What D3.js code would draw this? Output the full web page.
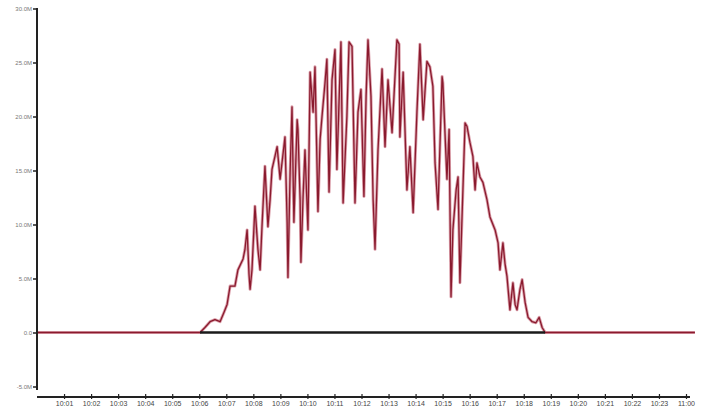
<!DOCTYPE html>
<html>
<head>
<meta charset="utf-8">
<script src="https://cdn.jsdelivr.net/npm/d3@7"></script>
<style>
  html, body { margin: 0; padding: 0; background: #fff; }
  svg { display: block; }
  text { font-family: "Liberation Sans", Arial, sans-serif; }
</style>
</head>
<body>
<svg id="chart" width="709" height="417"></svg>
<script>
// ---- data (hours since 10 00, power in M) ----
const hours = [0, 6.03, 6.21, 6.40, 6.58, 6.77, 6.92, 7.03, 7.14, 7.32, 7.43, 7.62, 7.69, 7.77, 7.84, 7.88, 7.95,
  8.06, 8.17, 8.25, 8.32, 8.43, 8.54, 8.62, 8.69, 8.80, 8.88, 8.99, 9.06, 9.17, 9.25, 9.28, 9.36, 9.43, 9.50,
  9.62, 9.65, 9.73, 9.76, 9.84, 9.91, 10.02, 10.10, 10.21, 10.28, 10.39, 10.47, 10.54, 10.65, 10.72, 10.80,
  10.91, 11.02, 11.09, 11.24, 11.32, 11.46, 11.54, 11.65, 11.76, 11.87, 11.98, 12.09, 12.17, 12.24, 12.35,
  12.43, 12.50, 12.61, 12.76, 12.87, 12.98, 13.13, 13.31, 13.39, 13.42, 13.54, 13.68, 13.79, 13.91, 14.05,
  14.16, 14.28, 14.42, 14.53, 14.64, 14.72, 14.83, 14.98, 15.01, 15.16, 15.24, 15.31, 15.38, 15.50, 15.57,
  15.64, 15.75, 15.83, 15.90, 16.01, 16.12, 16.20, 16.27, 16.38, 16.49, 16.64, 16.75, 16.94, 17.05, 17.12,
  17.23, 17.31, 17.38, 17.49, 17.60, 17.68, 17.75, 17.86, 17.94, 18.05, 18.16, 18.31, 18.45, 18.57, 18.68,
  18.79, 24.33];
const powerM = [0, 0, 0.46, 1.0, 1.2, 1.0, 1.9, 2.6, 4.3, 4.3, 5.8, 6.8, 7.7, 9.5, 5.4, 4.0, 5.8,
  11.7, 7.7, 5.8, 9.8, 15.4, 9.8, 12.3, 15.1, 16.3, 17.2, 14.2, 15.7, 18.1, 10.2, 5.1, 14.8, 20.9, 10.2,
  19.7, 18.8, 12.3, 6.5, 12.6, 16.9, 9.5, 24.1, 20.4, 24.6, 11.2, 17.9, 20.0, 23.1, 25.3, 13.0,
  23.4, 26.2, 15.1, 26.9, 12.0, 20.0, 26.9, 26.5, 12.0, 20.4, 22.5, 12.6, 21.9, 27.1, 21.9,
  12.3, 7.7, 16.9, 24.4, 17.2, 23.4, 18.5, 27.1, 26.7, 18.1, 24.1, 13.2, 17.2, 11.1, 20.4,
  26.7, 19.7, 25.1, 24.6, 22.8, 15.7, 11.4, 23.7, 23.1, 14.2, 18.8, 3.3, 9.5, 13.2, 14.4,
  4.6, 13.2, 19.4, 19.1, 17.6, 16.3, 13.2, 15.7, 14.4, 13.9, 12.3, 10.7, 9.5, 8.3, 5.8,
  8.3, 6.3, 5.2, 2.1, 4.6, 2.6, 2.1, 4.0, 4.9, 2.8, 1.4, 1.0, 0.9, 1.4, 0.46,
  0, 0];
// second series: flat zero during daylight
const baseHours = [6.03, 18.79];
const baseM = [0, 0];

const yTicks = [30, 25, 20, 15, 10, 5, 0, -5];
const yTickLabels = ["30.0M", "25.0M", "20.0M", "15.0M", "10.0M", "5.0M", "0.0", "-5.0M"];
const xTicks = [1,2,3,4,5,6,7,8,9,10,11,12,13,14,15,16,17,18,19,20,21,22,23,24];
const xTickLabels = ["10:01","10:02","10:03","10:04","10:05","10:06","10:07","10:08","10:09","10:10","10:11",
  "10:12","10:13","10:14","10:15","10:16","10:17","10:18","10:19","10:20","10:21","10:22","10:23","11:00"];

// ---- drawing ----
const svg = d3.select("#chart");
const x = d3.scaleLinear().domain([0, 24]).range([37, 686]);
const y = d3.scaleLinear().domain([-5, 30]).range([386.5, 8.5]);

const pts = hours.map((h, i) => [h, powerM[i]]);
const basePts = baseHours.map((h, i) => [h, baseM[i]]);
const line = d3.line().x(d => x(d[0])).y(d => y(d[1]));

// red series: soft halo + dark core
svg.append("path").datum(pts).attr("d", line)
  .attr("fill", "none").attr("stroke", "#dba0ab").attr("stroke-width", 3)
  .attr("stroke-linejoin", "round");
svg.append("path").datum(pts).attr("d", line)
  .attr("fill", "none").attr("stroke", "#8a1a2e").attr("stroke-width", 1.3)
  .attr("stroke-linejoin", "round");

// black base series
svg.append("path").datum(basePts).attr("d", line)
  .attr("fill", "none").attr("stroke", "#1a1a1a").attr("stroke-width", 2.5);

// y axis
const yAxis = d3.axisLeft(y).tickValues(yTicks)
  .tickFormat((d, i) => yTickLabels[i]).tickSize(4).tickSizeOuter(0);
const gy = svg.append("g").attr("transform", "translate(37,0)").call(yAxis);
gy.select(".domain").attr("stroke", "#222").attr("stroke-width", 2).attr("d", "M0,8V390");
gy.selectAll(".tick line").attr("stroke", "#222").attr("stroke-width", 1.5);
gy.selectAll(".tick text").attr("font-size", 6).attr("fill", "#777").attr("x", -5)
  .attr("font-family", "Liberation Sans, Arial, sans-serif");

// x axis
const xAxis = d3.axisBottom(x).tickValues(xTicks)
  .tickFormat((d, i) => xTickLabels[i]).tickSize(3).tickSizeOuter(0);
const gx = svg.append("g").attr("transform", "translate(0,397)").call(xAxis);
gx.select(".domain").attr("stroke", "#222").attr("stroke-width", 2).attr("d", "M37,0H690");
gx.selectAll(".tick line").attr("stroke", "#222").attr("stroke-width", 1.2).attr("y1", -3).attr("y2", 2);
gx.selectAll(".tick text").attr("font-size", 7).attr("fill", "#444").attr("dy", "0.9em").attr("y", 3)
  .attr("font-family", "Liberation Sans, Arial, sans-serif");
</script>
</body>
</html>
